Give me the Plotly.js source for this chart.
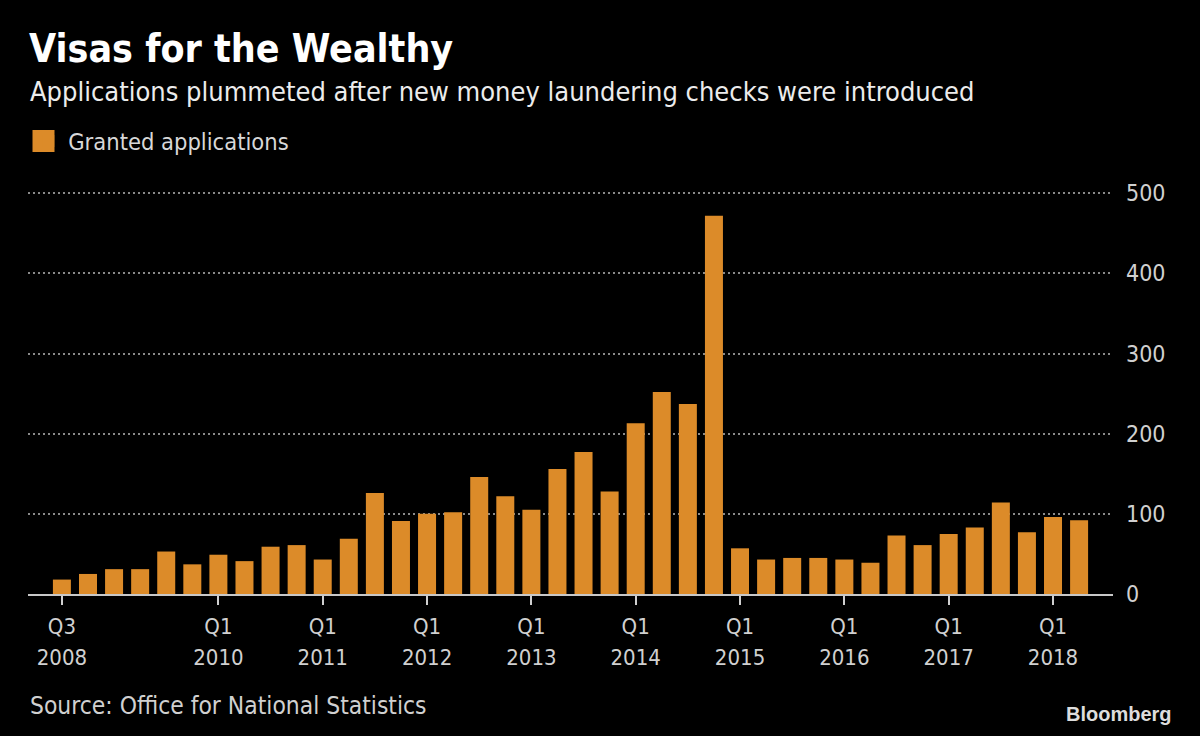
<!DOCTYPE html>
<html>
<head>
<meta charset="utf-8">
<script src="https://cdn.plot.ly/plotly-3.0.1.min.js"></script>
<style>
html,body{margin:0;padding:0;background:#000;}
#chart{width:1200px;height:736px;}
</style>
</head>
<body>
<div id="chart"></div>
<script>
const quarters = [
  "2008 Q3","2008 Q4",
  "2009 Q1","2009 Q2","2009 Q3","2009 Q4",
  "2010 Q1","2010 Q2","2010 Q3","2010 Q4",
  "2011 Q1","2011 Q2","2011 Q3","2011 Q4",
  "2012 Q1","2012 Q2","2012 Q3","2012 Q4",
  "2013 Q1","2013 Q2","2013 Q3","2013 Q4",
  "2014 Q1","2014 Q2","2014 Q3","2014 Q4",
  "2015 Q1","2015 Q2","2015 Q3","2015 Q4",
  "2016 Q1","2016 Q2","2016 Q3","2016 Q4",
  "2017 Q1","2017 Q2","2017 Q3","2017 Q4",
  "2018 Q1","2018 Q2"
];
const granted = [
  18, 25,
  31, 31, 53, 37,
  49, 41, 59, 61,
  43, 69, 126, 91,
  100, 102, 146, 122,
  105, 156, 177, 128,
  213, 252, 237, 472,
  57, 43, 45, 45,
  43, 39, 73, 61,
  75, 83, 114, 77,
  96, 92
];
const tickQuarters = ["2008 Q3","2010 Q1","2011 Q1","2012 Q1","2013 Q1","2014 Q1","2015 Q1","2016 Q1","2017 Q1","2018 Q1"];
const tickLabels = [["Q3","2008"],["Q1","2010"],["Q1","2011"],["Q1","2012"],["Q1","2013"],["Q1","2014"],["Q1","2015"],["Q1","2016"],["Q1","2017"],["Q1","2018"]];
const yTicks = [0, 100, 200, 300, 400, 500];

const FONT = "DejaVu Sans Condensed, DejaVu Sans, sans-serif";
const ORANGE = "#dc8b29";

const ticktext = tickLabels.map(p =>
  "<span style='font-size:22px'>" + p[0] + "</span><br><span style='font-size:22px'>" + p[1] + "</span>");

const trace = {
  type: "bar",
  x: quarters,
  y: granted,
  name: "Granted applications",
  marker: {color: ORANGE, line: {width: 0}},
  hoverinfo: "x+y"
};

// legend swatch enlarged to match the reference (22px square behind the legend symbol)
const PLOT_TOP = 192, PLOT_BOTTOM = 594, PLOT_LEFT = 28, PLOT_W = 1085;
const px2x = px => (px - PLOT_LEFT) / PLOT_W;
const py2y = py => (PLOT_BOTTOM - py) / (PLOT_BOTTOM - PLOT_TOP);

const layout = {
  width: 1200,
  height: 736,
  paper_bgcolor: "#000",
  plot_bgcolor: "#000",
  margin: {l: 28, r: 87, t: 192, b: 142, autoexpand: false},
  bargap: 0.31,
  font: {family: FONT, color: "#d0d0d0"},
  showlegend: true,
  legend: {
    xref: "container", yref: "container",
    x: 0.0235, y: 0.808, xanchor: "left", yanchor: "middle",
    bgcolor: "rgba(0,0,0,0)",
    font: {family: FONT, size: 23.5, color: "#d8d8d8"},
    itemsizing: "constant"
  },
  xaxis: {
    type: "category",
    range: [-1.3, 40.3],
    tickmode: "array",
    tickvals: tickQuarters,
    ticktext: ticktext,
    tickfont: {family: FONT, size: 24, color: "#d0d0d0"},
    ticks: "outside",
    ticklen: 9,
    tickwidth: 2,
    tickcolor: "#d0d0d0",
    showline: true,
    linecolor: "#c8c8c8",
    linewidth: 2,
    showgrid: false,
    zeroline: false,
    tickangle: 0,
    fixedrange: true
  },
  yaxis: {
    side: "right",
    range: [0, 501.5],
    tickmode: "array",
    tickvals: yTicks,
    ticktext: yTicks.map(String),
    tickfont: {family: FONT, size: 23, color: "#d0d0d0"},
    ticks: "",
    ticklabelstandoff: 12,
    showgrid: true,
    gridcolor: "#8a8a8a",
    gridwidth: 2,
    griddash: "2px,3px",
    zeroline: false,
    showline: false,
    fixedrange: true
  },
  shapes: [
    {type: "rect", xref: "paper", yref: "paper",
     x0: px2x(32.5), x1: px2x(54.5), y0: py2y(152), y1: py2y(130),
     fillcolor: ORANGE, line: {width: 0}, layer: "above"}
  ],
  annotations: [
    {xref: "paper", yref: "paper", x: 0, y: 1, xanchor: "left", yanchor: "top", showarrow: false,
     text: "<b>Visas for the Wealthy</b>", font: {family: FONT, size: 39, color: "#ffffff"},
     xshift: -1, yshift: 168},
    {xref: "paper", yref: "paper", x: 0, y: 1, xanchor: "left", yanchor: "top", showarrow: false,
     text: "Applications plummeted after new money laundering checks were introduced",
     font: {family: FONT, size: 27, color: "#ececec"}, xshift: 0, yshift: 118},
    {xref: "paper", yref: "paper", x: 0, y: 0, xanchor: "left", yanchor: "top", showarrow: false,
     text: "Source: Office for National Statistics",
     font: {family: FONT, size: 24.4, color: "#d0d0d0"}, xshift: 0, yshift: -95},
    {xref: "paper", yref: "paper", x: 1, y: 0, xanchor: "right", yanchor: "top", showarrow: false,
     text: "<b>Bloomberg</b>",
     font: {family: "Liberation Sans, Arial, sans-serif", size: 20, color: "#dddddd"}, xshift: 61, yshift: -107}
  ]
};

Plotly.newPlot("chart", [trace], layout, {displayModeBar: false, staticPlot: true});
</script>
</body>
</html>
